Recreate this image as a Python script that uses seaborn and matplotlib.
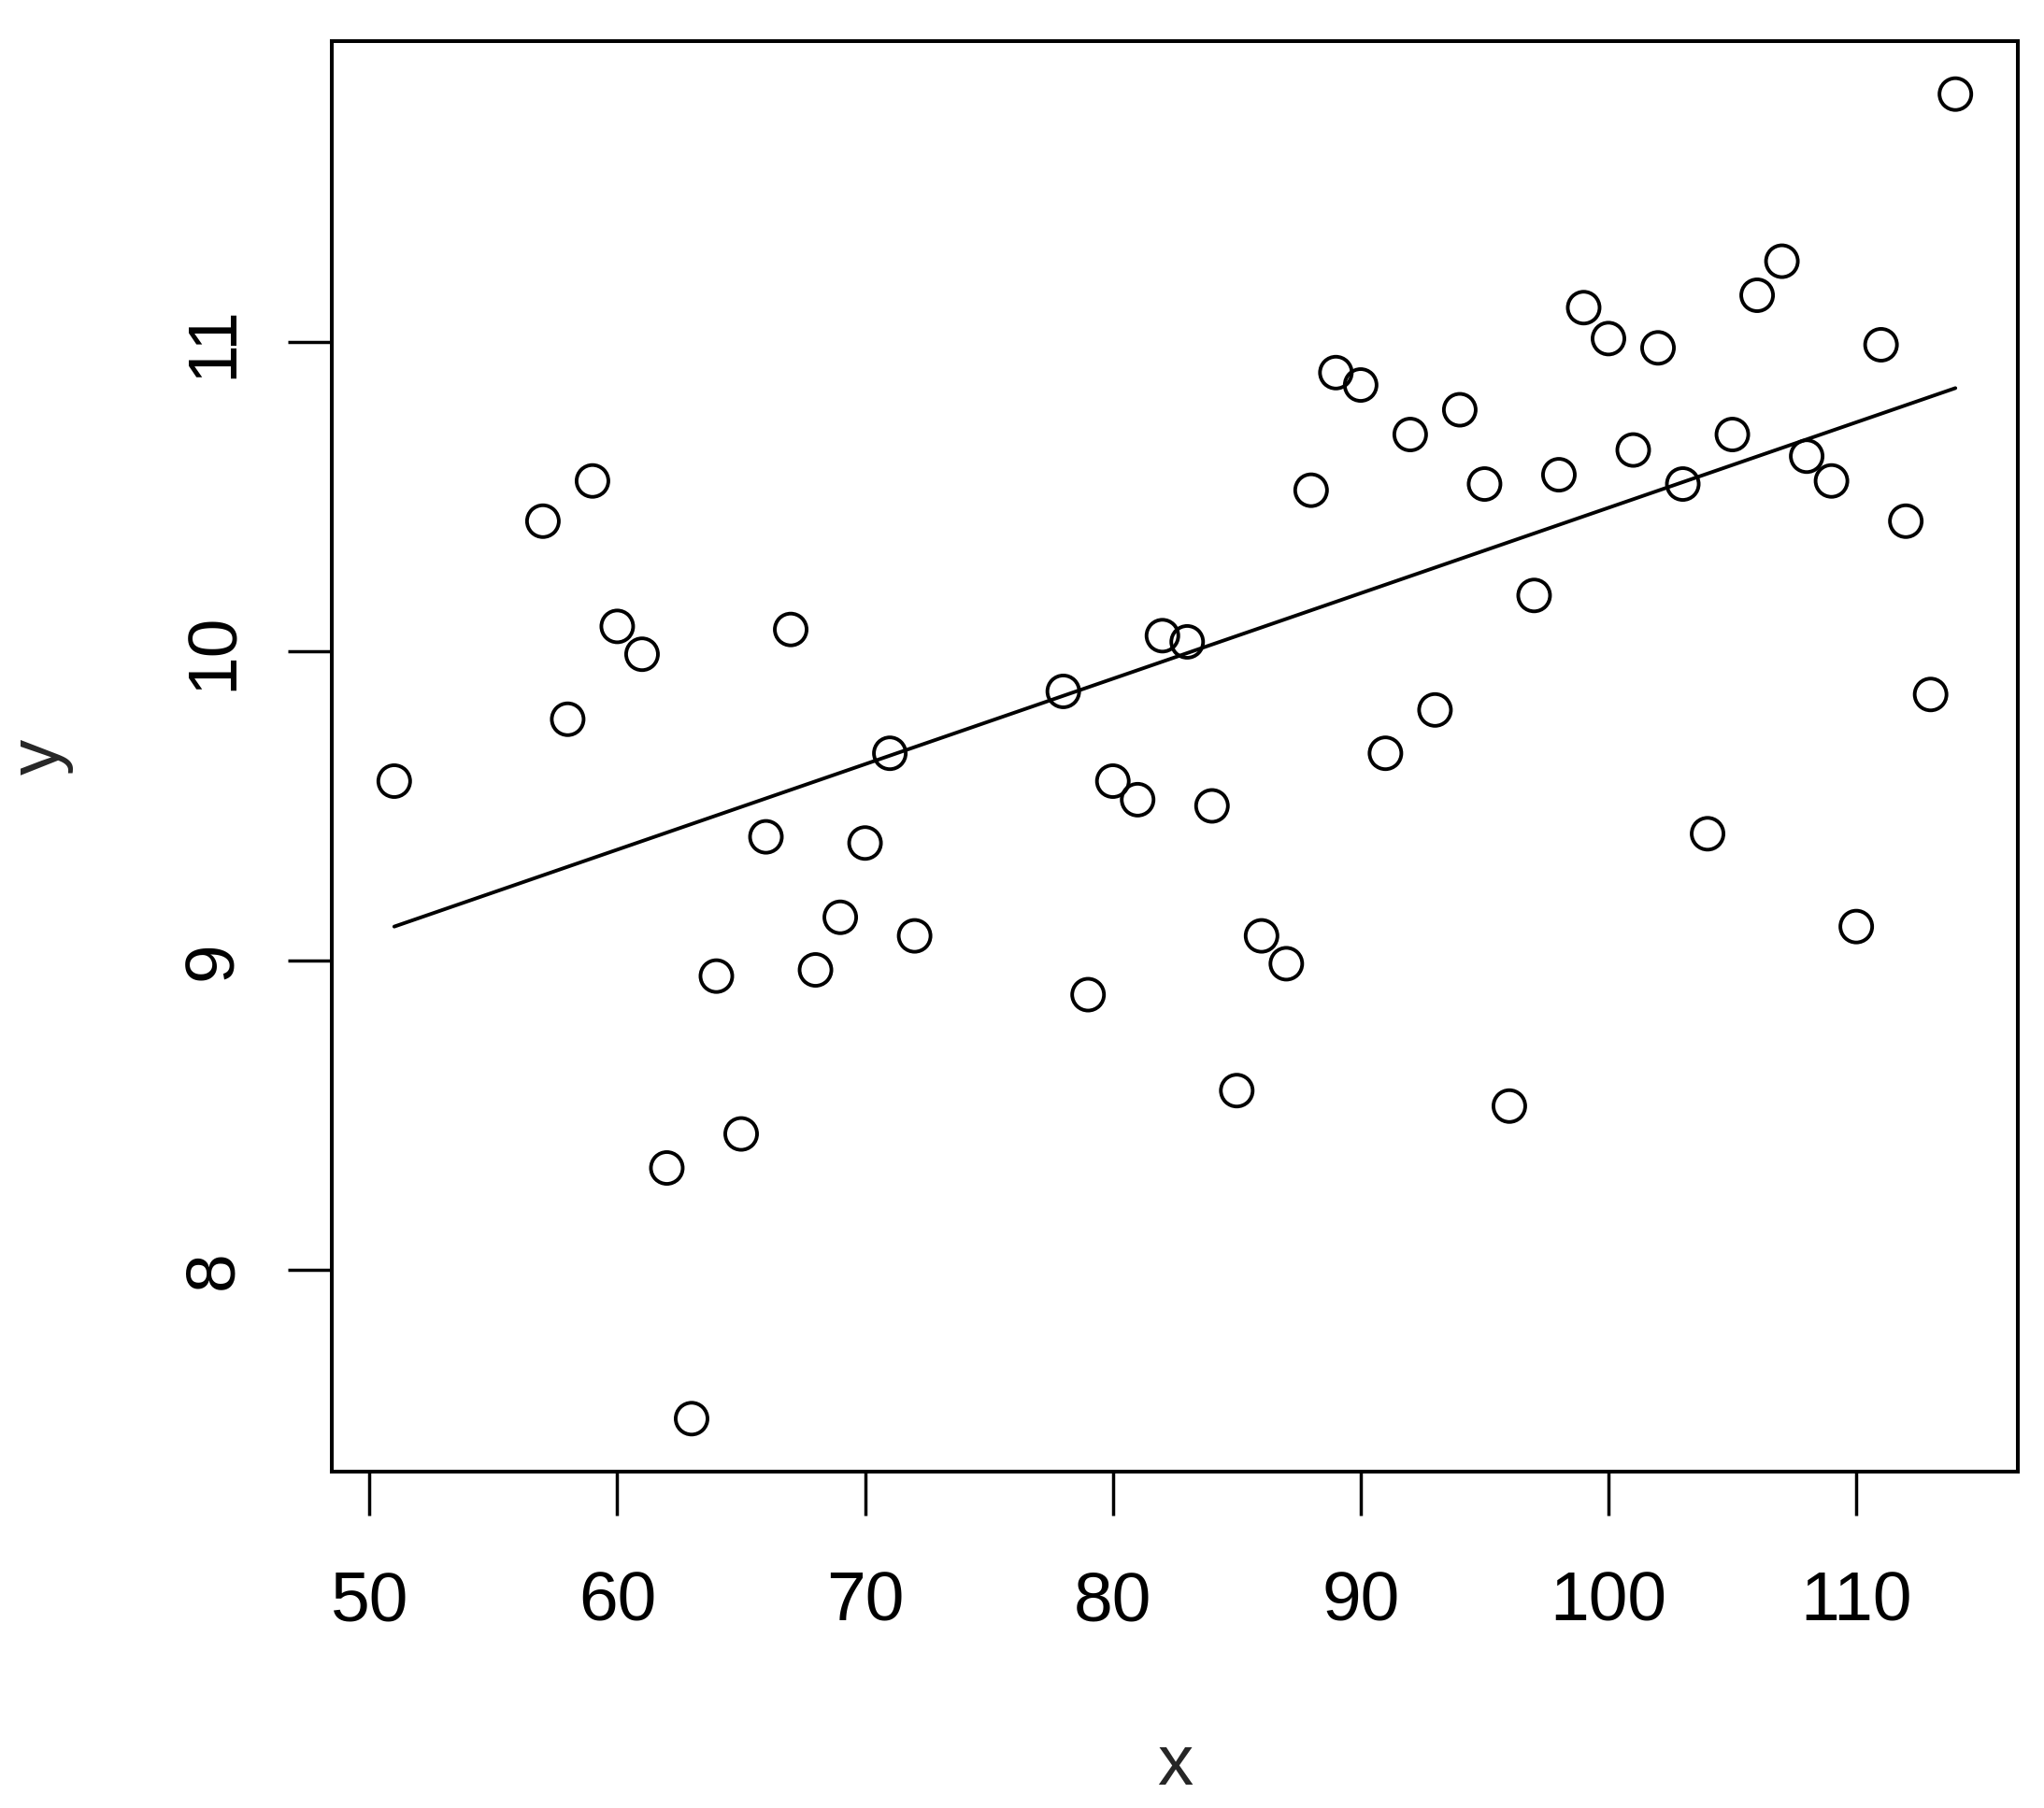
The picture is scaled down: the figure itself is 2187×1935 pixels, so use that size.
import numpy as np
import pandas as pd
import matplotlib
matplotlib.use("Agg")
import matplotlib.pyplot as plt
import seaborn as sns

# ---- data ----
x_vals = [51, 57, 58, 59, 60, 61, 62, 63, 64, 65, 66, 67, 68, 69, 70, 71, 72,
          78, 79, 80, 81, 82, 83, 84, 85, 86, 87, 88, 89, 90, 91, 92, 93, 94,
          95, 96, 97, 98, 99, 100, 101, 102, 103, 104, 105, 106, 107, 108, 109,
          110, 111, 112, 113, 114]
y_vals = [9.58, 10.42, 9.78, 10.55, 10.08, 9.99, 8.33, 7.52, 8.95, 8.44, 9.40,
          10.07, 8.97, 9.14, 9.38, 9.67, 9.08,
          9.87, 8.89, 9.58, 9.52, 10.05, 10.03, 9.50, 8.58, 9.08, 8.99, 10.52,
          10.90, 10.86, 9.67, 10.70, 9.81, 10.78,
          10.54, 8.53, 10.18, 10.57, 11.11, 11.01, 10.65, 10.98, 10.54, 9.41,
          10.70, 11.15, 11.26, 10.63, 10.55,
          9.11, 10.99, 10.42, 9.86, 11.80]
# fitted line as drawn in the reference (end values)
fit_x = [51, 114]
fit_y = [9.11, 10.85]
x_ticks = [50, 60, 70, 80, 90, 100, 110]
y_ticks = [8, 9, 10, 11]
x_label = "x"
y_label = "y"

df = pd.DataFrame({"x": x_vals, "y": y_vals})
df_fit = pd.DataFrame({"x": fit_x, "y": fit_y})

sns.set_style("white")
plt.rcParams["font.family"] = ["Liberation Sans", "DejaVu Sans"]

W, H, DPI = 2187, 1935, 100
fig = plt.figure(figsize=(W / DPI, H / DPI), dpi=DPI)
ax = fig.add_axes([355 / W, 1 - 1575 / H, (2159 - 355) / W, (1575 - 44) / H])

sns.scatterplot(data=df, x="x", y="y", ax=ax, marker="o", s=24.5 ** 2,
                facecolors="none", edgecolor="black", linewidth=2.8, zorder=3)
sns.lineplot(data=df_fit, x="x", y="y", ax=ax, color="black", lw=2.8,
             estimator=None, sort=False)

# R-style 4% axis expansion
def r_lim(v):
    lo, hi = min(v), max(v)
    d = (hi - lo) * 0.04
    return lo - d, hi + d

ax.set_xlim(*r_lim(x_vals))
ax.set_ylim(*r_lim(y_vals))
ax.set_xticks(x_ticks)
ax.set_yticks(y_ticks)
ax.set_xticklabels([str(t) for t in x_ticks])
ax.set_yticklabels([str(t) for t in y_ticks], rotation=90, va="center")

for s in ax.spines.values():
    s.set_visible(True)
    s.set_color("black")
    s.set_linewidth(2.9)

ax.tick_params(axis="both", which="major", direction="out", length=34,
               width=2.5, color="black", labelsize=54, labelcolor="black",
               bottom=True, left=True)
ax.tick_params(axis="x", pad=42)
ax.tick_params(axis="y", pad=32)

ax.set_xlabel(x_label, fontsize=55)
ax.set_ylabel(y_label, fontsize=55, rotation=90)
ax.xaxis.label.set_va("center")
ax.yaxis.label.set_va("center")
ax.yaxis.label.set_ha("center")
ax0, ax1 = 355 / W, 2159 / W
ay0, ay1 = 1 - 1575 / H, 1 - 44 / H
ax.xaxis.set_label_coords(0.5, ((1 - 1890 / H) - ay0) / (ay1 - ay0))
ax.yaxis.set_label_coords(((43 / W) - ax0) / (ax1 - ax0), 0.5)
ax.grid(False)

fig.savefig("out.png", dpi=DPI, facecolor="white")
